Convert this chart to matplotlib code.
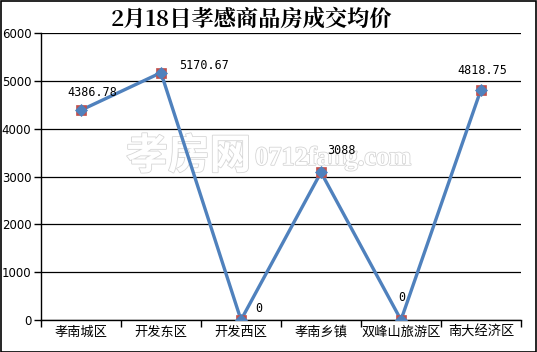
import matplotlib
matplotlib.use("Agg")
import matplotlib.pyplot as plt
import matplotlib.patheffects as pe
from matplotlib.patches import Rectangle

plt.rcParams['font.family'] = ['Noto Sans CJK SC', 'DejaVu Sans']

categories = ['孝南城区', '开发东区', '开发西区', '孝南乡镇', '双峰山旅游区', '南大经济区']
values = [4386.78, 5170.67, 0, 3088, 0, 4818.75]
labels = ['4386.78', '5170.67', '0', '3088', '0', '4818.75']
yticks = [0, 1000, 2000, 3000, 4000, 5000, 6000]
title = '2月18日孝感商品房成交均价'

W, H = 537, 352
fig = plt.figure(figsize=(W / 100, H / 100), dpi=100)
ax = fig.add_axes([41 / W, 1 - 320 / H, (521 - 41) / W, (320 - 33) / H])

x = list(range(len(categories)))
ax.set_xlim(-0.5, len(categories) - 0.5)
ax.set_ylim(0, 6000)

# watermark (behind the data)
ax.text(0.235, 0.555, '孝房网', fontsize=30, color='white', ha='left', va='center',
        transform=fig.transFigure, fontweight='bold',
        path_effects=[pe.withStroke(linewidth=1.2, foreground='#d6d6d6')], zorder=0.5)
ax.text(0.475, 0.55, '0712fang.com', fontsize=19, color='white', ha='left', va='center',
        transform=fig.transFigure, family='Liberation Serif', fontweight='bold',
        path_effects=[pe.withStroke(linewidth=1.2, foreground='#d6d6d6')], zorder=0.5)

for yv in yticks:
    ax.axhline(yv, color='black', lw=0.9, zorder=1)

ax.plot(x, values, color='#4F81BD', lw=2.4, zorder=3)
ax.plot(x, values, linestyle='none', marker='s', markersize=7.5, color='#C0504D',
        markeredgecolor='#C0504D', markeredgewidth=0.5, zorder=4)
ax.plot(x, values, linestyle='none', marker='D', markersize=6.5, color='#4F81BD',
        markeredgecolor='#4F81BD', markeredgewidth=0.5, zorder=5)

offsets = [(8, 13), (13, 5), (10, 8), (15, 16), (-2, 16), (1, 14)]
for xi, v, lab, (dx, dy) in zip(x, values, labels, offsets):
    ha = 'left' if lab in ('5170.67', '0') else 'center'
    ax.annotate(lab, (xi, v), xytext=(dx, dy), textcoords='offset points',
                ha=ha, va='center', fontsize=8.5, family='DejaVu Sans Mono', zorder=6)

ax.set_yticks(yticks)
ax.set_yticklabels([str(t) for t in yticks], fontsize=8.5, family='DejaVu Sans')
ax.set_xticks(x)
ax.set_xticklabels(categories, fontsize=9.5)
ax.set_xticks([i - 0.5 for i in range(len(categories) + 1)], minor=True)
ax.tick_params(axis='x', which='major', length=0, pad=4)
ax.tick_params(axis='x', which='minor', length=5, width=1, direction='out')
ax.tick_params(axis='y', length=5, width=1, direction='out', pad=2)

for s in ['top', 'right']:
    ax.spines[s].set_visible(False)
ax.spines['left'].set_linewidth(1)
ax.spines['bottom'].set_linewidth(1)
ax.patch.set_alpha(0)

fig.text(0.468, 0.945, title, fontsize=16, fontweight='bold', ha='center', va='center',
         family=['Noto Serif CJK SC', 'Noto Sans CJK SC', 'DejaVu Serif'])

fig.patches.append(Rectangle((0.001, 0.001), 0.997, 0.997, transform=fig.transFigure,
                             fill=False, edgecolor='black', lw=1.2))

fig.savefig('out.png', dpi=100)
